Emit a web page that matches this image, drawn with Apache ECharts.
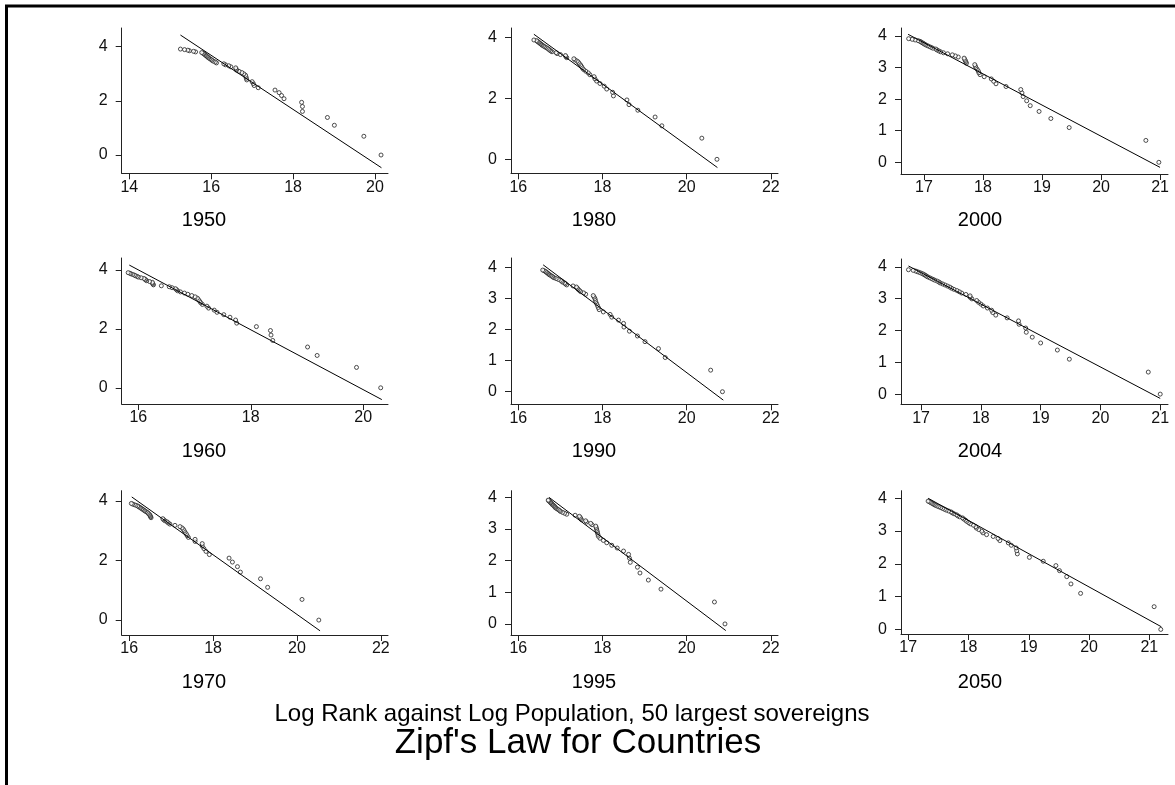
<!DOCTYPE html>
<html>
<head>
<meta charset="utf-8">
<script src="https://cdn.jsdelivr.net/npm/echarts@6/dist/echarts.min.js"></script>
<style>
  html, body { margin: 0; padding: 0; background: #fff; }
  #chart { width: 1175px; height: 785px; }
</style>
</head>
<body>
<div id="chart"></div>
<script>
// log rank of the 50 largest countries (rank 1..50)
const logRank = [0, 0.693, 1.099, 1.386, 1.609, 1.792, 1.946, 2.079, 2.197, 2.303,
  2.398, 2.485, 2.565, 2.639, 2.708, 2.773, 2.833, 2.890, 2.944, 2.996,
  3.045, 3.091, 3.135, 3.178, 3.219, 3.258, 3.296, 3.332, 3.367, 3.401,
  3.434, 3.466, 3.497, 3.526, 3.555, 3.584, 3.611, 3.638, 3.664, 3.689,
  3.714, 3.738, 3.761, 3.784, 3.807, 3.829, 3.850, 3.871, 3.892, 3.912];

// log population, same rank order
const pop1950 = [20.15, 19.73, 19.01, 18.84, 18.23, 18.23, 18.21, 17.78, 17.72, 17.66,
  17.56, 17.15, 17.05, 17.03, 17.00, 16.87, 16.86, 16.85, 16.84, 16.80,
  16.75, 16.68, 16.62, 16.61, 16.60, 16.48, 16.43, 16.35, 16.31, 16.13,
  16.10, 16.05, 16.02, 16.00, 15.97, 15.94, 15.92, 15.90, 15.88, 15.86,
  15.84, 15.82, 15.80, 15.77, 15.62, 15.57, 15.47, 15.43, 15.35, 15.25];
const pop1980 = [20.72, 20.36, 19.41, 19.25, 18.84, 18.63, 18.58, 18.26, 18.24, 18.10,
  18.04, 17.94, 17.86, 17.82, 17.80, 17.70, 17.66, 17.60, 17.55, 17.52,
  17.50, 17.48, 17.45, 17.43, 17.40, 17.35, 17.32, 17.15, 17.13, 17.12,
  17.00, 16.92, 16.90, 16.80, 16.77, 16.74, 16.72, 16.69, 16.66, 16.63,
  16.60, 16.57, 16.55, 16.53, 16.51, 16.49, 16.47, 16.45, 16.43, 16.37];
const pop2000 = [20.98, 20.76, 19.46, 19.15, 18.95, 18.80, 18.74, 18.68, 18.66, 18.64,
  18.39, 18.22, 18.18, 18.14, 18.02, 17.95, 17.93, 17.92, 17.90, 17.88,
  17.87, 17.86, 17.72, 17.71, 17.70, 17.69, 17.68, 17.58, 17.53, 17.48,
  17.40, 17.33, 17.28, 17.25, 17.22, 17.20, 17.15, 17.12, 17.09, 17.06,
  17.03, 17.01, 16.99, 16.97, 16.95, 16.93, 16.90, 16.85, 16.80, 16.74];
const pop1960 = [20.31, 19.88, 19.18, 19.01, 18.39, 18.36, 18.35, 18.10, 17.75, 17.73,
  17.63, 17.52, 17.40, 17.35, 17.25, 17.22, 17.14, 17.11, 17.09, 17.07,
  17.05, 17.01, 16.95, 16.88, 16.82, 16.75, 16.70, 16.68, 16.66, 16.60,
  16.55, 16.41, 16.27, 16.26, 16.25, 16.25, 16.20, 16.15, 16.13, 16.12,
  16.10, 16.05, 16.00, 15.98, 15.95, 15.93, 15.90, 15.87, 15.85, 15.82];
const pop1990 = [20.85, 20.57, 19.49, 19.33, 19.01, 18.83, 18.64, 18.51, 18.50, 18.38,
  18.22, 18.18, 18.02, 17.92, 17.90, 17.88, 17.86, 17.84, 17.83, 17.82,
  17.80, 17.78, 17.60, 17.55, 17.48, 17.45, 17.42, 17.40, 17.38, 17.30,
  17.15, 17.12, 17.10, 17.05, 17.03, 17.00, 16.95, 16.90, 16.85, 16.82,
  16.80, 16.77, 16.74, 16.72, 16.70, 16.68, 16.66, 16.64, 16.61, 16.58];
const pop2004 = [21.00, 20.80, 19.48, 19.28, 19.00, 18.86, 18.76, 18.75, 18.64, 18.63,
  18.44, 18.25, 18.20, 18.18, 18.11, 18.04, 18.00, 17.96, 17.93, 17.85,
  17.82, 17.82, 17.75, 17.68, 17.64, 17.60, 17.55, 17.51, 17.48, 17.44,
  17.40, 17.36, 17.32, 17.30, 17.27, 17.23, 17.20, 17.17, 17.14, 17.11,
  17.09, 17.07, 17.05, 17.03, 17.00, 16.97, 16.94, 16.91, 16.87, 16.79];
const pop1970 = [20.52, 20.12, 19.30, 19.13, 18.65, 18.58, 18.46, 18.38, 17.91, 17.83,
  17.78, 17.74, 17.74, 17.57, 17.57, 17.41, 17.38, 17.36, 17.33, 17.31,
  17.29, 17.26, 17.21, 17.09, 16.97, 16.93, 16.90, 16.85, 16.82, 16.80,
  16.52, 16.51, 16.50, 16.49, 16.47, 16.45, 16.43, 16.40, 16.37, 16.35,
  16.32, 16.30, 16.27, 16.25, 16.22, 16.20, 16.16, 16.12, 16.08, 16.05];
const pop1995 = [20.91, 20.66, 19.39, 19.09, 18.89, 18.83, 18.66, 18.64, 18.62, 18.50,
  18.35, 18.22, 18.10, 18.02, 17.94, 17.90, 17.89, 17.88, 17.87, 17.86,
  17.85, 17.84, 17.75, 17.72, 17.62, 17.60, 17.50, 17.48, 17.47, 17.45,
  17.35, 17.15, 17.10, 17.05, 17.00, 16.98, 16.95, 16.92, 16.89, 16.87,
  16.86, 16.84, 16.82, 16.80, 16.79, 16.77, 16.76, 16.74, 16.72, 16.71];
const pop2050 = [21.19, 21.08, 19.86, 19.70, 19.63, 19.51, 19.45, 19.24, 19.01, 18.81,
  18.80, 18.79, 18.71, 18.66, 18.52, 18.49, 18.41, 18.30, 18.24, 18.22,
  18.17, 18.13, 18.12, 18.08, 18.03, 18.00, 17.97, 17.95, 17.92, 17.90,
  17.85, 17.82, 17.80, 17.76, 17.73, 17.71, 17.67, 17.63, 17.60, 17.57,
  17.54, 17.51, 17.48, 17.45, 17.43, 17.41, 17.39, 17.37, 17.35, 17.33];

// fitted line ends: [x start, y start, x end, y end]
const fit1950 = [15.25, 4.43, 20.16, -0.47];
const fit1980 = [16.37, 4.10, 20.73, -0.27];
const fit2000 = [16.73, 4.05, 21.00, -0.16];
const fit1960 = [15.84, 4.17, 20.33, -0.40];
const fit1990 = [16.59, 4.08, 20.87, -0.27];
const fit2004 = [16.79, 4.03, 21.00, -0.135];
const fit1970 = [16.06, 4.13, 20.55, -0.36];
const fit1995 = [16.73, 4.00, 20.93, -0.21];
const fit2050 = [17.33, 4.00, 21.20, 0.08];

const years = ["1950", "1980", "2000", "1960", "1990", "2004", "1970", "1995", "2050"];
const pops = [pop1950, pop1980, pop2000, pop1960, pop1990, pop2004, pop1970, pop1995, pop2050];
const fits = [fit1950, fit1980, fit2000, fit1960, fit1990, fit2004, fit1970, fit1995, fit2050];

// tick labels
const xTicks = [[14, 16, 18, 20], [16, 18, 20, 22], [17, 18, 19, 20, 21],
  [16, 18, 20], [16, 18, 20, 22], [17, 18, 19, 20, 21],
  [16, 18, 20, 22], [16, 18, 20, 22], [17, 18, 19, 20, 21]];
const yTicks = [[0, 2, 4], [0, 2, 4], [0, 1, 2, 3, 4],
  [0, 2, 4], [0, 1, 2, 3, 4], [0, 1, 2, 3, 4],
  [0, 2, 4], [0, 1, 2, 3, 4], [0, 1, 2, 3, 4]];

// panel layout: [left, right, top, bottom] px and axis ranges [xmin, xmax, ymin, ymax]
const boxes = [
  [121.7, 388, 28, 173.3], [511, 778, 28, 173.3], [901, 1168, 28, 174],
  [121.7, 388, 258, 404], [511, 778, 258, 404.3], [901, 1168, 259, 404.3],
  [121.7, 388, 490.7, 635], [511, 778, 490.7, 635], [901, 1168, 490.7, 634]
];
const ranges = [
  [13.815, 20.32, -0.675, 4.69], [15.826, 22.17, -0.459, 4.305], [16.61, 21.135, -0.37, 4.25],
  [15.705, 20.44, -0.55, 4.41], [15.826, 22.17, -0.405, 4.30], [16.665, 21.13, -0.32, 4.25],
  [15.82, 22.17, -0.50, 4.34], [15.826, 22.17, -0.35, 4.21], [16.88, 21.31, -0.14, 4.23]
];
const labelX = [204, 594, 980];
const labelY = [220, 451, 682];

const font = "'Liberation Sans', Arial, sans-serif";
const myChart = echarts.init(document.getElementById("chart"));

let grid = [], xAxis = [], yAxis = [], series = [], graphic = [];
for (let i = 0; i < years.length; i++) {
  const b = boxes[i], r = ranges[i];
  grid.push({ left: b[0], top: b[2], width: b[1] - b[0], height: b[3] - b[2] });
  xAxis.push({
    gridIndex: i, type: "value", min: r[0], max: r[1],
    axisLine: { show: true, onZero: false, lineStyle: { color: "#222", width: 1 } },
    axisTick: { show: true, length: 6, customValues: xTicks[i], lineStyle: { color: "#222" } },
    axisLabel: { customValues: xTicks[i], fontSize: 16, color: "#111", margin: 6, fontFamily: font },
    splitLine: { show: false }
  });
  yAxis.push({
    gridIndex: i, type: "value", min: r[2], max: r[3],
    axisLine: { show: true, onZero: false, lineStyle: { color: "#222", width: 1 } },
    axisTick: { show: true, length: 6, customValues: yTicks[i], lineStyle: { color: "#222" } },
    axisLabel: { customValues: yTicks[i], fontSize: 16, color: "#111", margin: 14, fontFamily: font },
    splitLine: { show: false }
  });
  series.push({
    type: "scatter", xAxisIndex: i, yAxisIndex: i,
    symbol: "circle", symbolSize: 4,
    itemStyle: { color: "#fff", borderColor: "#222", borderWidth: 1 },
    data: pops[i].map((x, j) => [x, logRank[j]]),
    silent: true
  });
  const f = fits[i];
  series.push({
    type: "line", xAxisIndex: i, yAxisIndex: i,
    showSymbol: false, silent: true,
    lineStyle: { color: "#000", width: 1 },
    data: [[f[0], f[1]], [f[2], f[3]]]
  });
  graphic.push({
    type: "text", x: labelX[i % 3], y: labelY[Math.floor(i / 3)],
    style: { text: years[i], fontSize: 20, fontFamily: font, fill: "#000", align: "center", verticalAlign: "middle" }
  });
}

graphic.push({
  type: "text", x: 572, y: 714,
  style: { text: "Log Rank against Log Population, 50 largest sovereigns", fontSize: 24, fontFamily: font, fill: "#000", align: "center", verticalAlign: "middle" }
});
graphic.push({
  type: "text", x: 578, y: 743,
  style: { text: "Zipf's Law for Countries", fontSize: 35, fontFamily: font, fill: "#000", align: "center", verticalAlign: "middle" }
});
// outer frame (right and bottom edges fall outside the picture)
graphic.push({
  type: "rect", shape: { x: 6.5, y: 6, width: 1200, height: 800 },
  style: { fill: "none", stroke: "#000", lineWidth: 3 }, silent: true
});

const option = {
  animation: false,
  backgroundColor: "#fff",
  grid: grid,
  xAxis: xAxis,
  yAxis: yAxis,
  series: series,
  graphic: graphic
};
myChart.setOption(option);
</script>
</body>
</html>
